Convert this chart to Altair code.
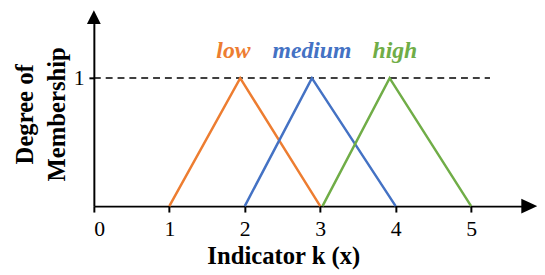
import altair as alt
import pandas as pd

# ---- data ----
series = ["low", "medium", "high"]
colors = ["#ED7D31", "#4472C4", "#70AD47"]
low_x = [1.0, 1.94, 3.0]
medium_x = [2.0, 2.89, 4.0]
high_x = [3.03, 3.92, 5.0]
shape_y = [0, 1, 0]
label_x = [1.85, 2.89, 3.99]
label_y = [1.157, 1.157, 1.157]
x_ticks = [0, 1, 2, 3, 4, 5]
y_ticks = [1]
x_max = 5.69
y_max = 1.426
ref_y = [1]
ref_x_start = [0]
ref_x_end = [5.25]
arrow_right_x = [5.77]
arrow_right_y = [0.0]
arrow_up_x = [0.0]
arrow_up_y = [1.476]

# ---- tables ----
rows = []
for name, xs in zip(series, [low_x, medium_x, high_x]):
    for i, (xv, yv) in enumerate(zip(xs, shape_y)):
        rows.append({"series": name, "x": xv, "y": yv, "o": i})
lines_df = pd.DataFrame(rows)
labels_df = pd.DataFrame({"series": series, "x": label_x, "y": label_y})
ref_df = pd.DataFrame({"x": ref_x_start, "x2": ref_x_end, "y": ref_y})
arr_r_df = pd.DataFrame({"x": arrow_right_x, "y": arrow_right_y})
arr_u_df = pd.DataFrame({"x": arrow_up_x, "y": arrow_up_y})

FONT = "Liberation Serif, Times New Roman, serif"

x_axis = alt.Axis(
    values=x_ticks, format="d", grid=False,
    title="Indicator k (x)", titleFont=FONT, titleFontSize=25, titleFontWeight="bold",
    titleColor="black", titleX=192, titleY=58, titleAlign="center", titleBaseline="alphabetic",
    labelFont=FONT, labelFontSize=22, labelColor="black", labelBaseline="alphabetic",
    labelPadding=24, tickSize=6, tickWidth=2, tickColor="black",
    domainColor="black", domainWidth=2,
)
y_axis = alt.Axis(
    values=y_ticks, format="d", grid=False,
    title=["Degree of", "Membership"], titleFont=FONT, titleFontSize=25, titleFontWeight="bold",
    titleColor="black", titleAngle=270, titleX=-62, titleY=91.5, titleAlign="center",
    titleBaseline="alphabetic", titleLineHeight=32,
    labelFont=FONT, labelFontSize=22, labelColor="black", labelBaseline="middle",
    labelPadding=5, tickSize=5, tickWidth=2, tickColor="black",
    domainColor="black", domainWidth=2,
)

xs = alt.Scale(domain=[0, x_max], nice=False, zero=False)
ys = alt.Scale(domain=[0, y_max], nice=False, zero=False)
cs = alt.Scale(domain=series, range=colors)

def X(f="x"):
    return alt.X(f"{f}:Q", scale=xs, axis=x_axis)

def Y(f="y"):
    return alt.Y(f"{f}:Q", scale=ys, axis=y_axis)

ref = alt.Chart(ref_df).mark_rule(strokeDash=[7, 5], strokeWidth=1.5, color="black").encode(
    x=X(), x2="x2:Q", y=Y()
)

lines = alt.Chart(lines_df).mark_line(strokeWidth=2.5).encode(
    x=X(), y=Y(),
    color=alt.Color("series:N", scale=cs, legend=None),
    order="o:Q",
)

labels = alt.Chart(labels_df).mark_text(
    font=FONT, fontSize=24, fontStyle="italic", fontWeight="bold",
    baseline="alphabetic", align="center",
).encode(
    x=X(), y=Y(), text="series:N",
    color=alt.Color("series:N", scale=cs, legend=None),
)

arrow_r = alt.Chart(arr_r_df).mark_point(
    shape="M-1,-0.94L1,0L-1,0.94Z", size=256, filled=True, color="black", opacity=1, strokeWidth=0
).encode(x=X(), y=Y())

arrow_u = alt.Chart(arr_u_df).mark_point(
    shape="M-1,1L0,-1L1,1Z", size=196, filled=True, color="black", opacity=1, strokeWidth=0
).encode(x=X(), y=Y())

chart = alt.layer(ref, lines, labels, arrow_r, arrow_u).properties(
    width=435, height=185,
    autosize=alt.AutoSizeParams(type="none"),
    padding={"left": 87, "top": 14, "right": 14, "bottom": 66},
    background="white",
).configure_view(strokeWidth=0)

chart.save("out.html", embed_options={"renderer": "svg", "actions": False})
